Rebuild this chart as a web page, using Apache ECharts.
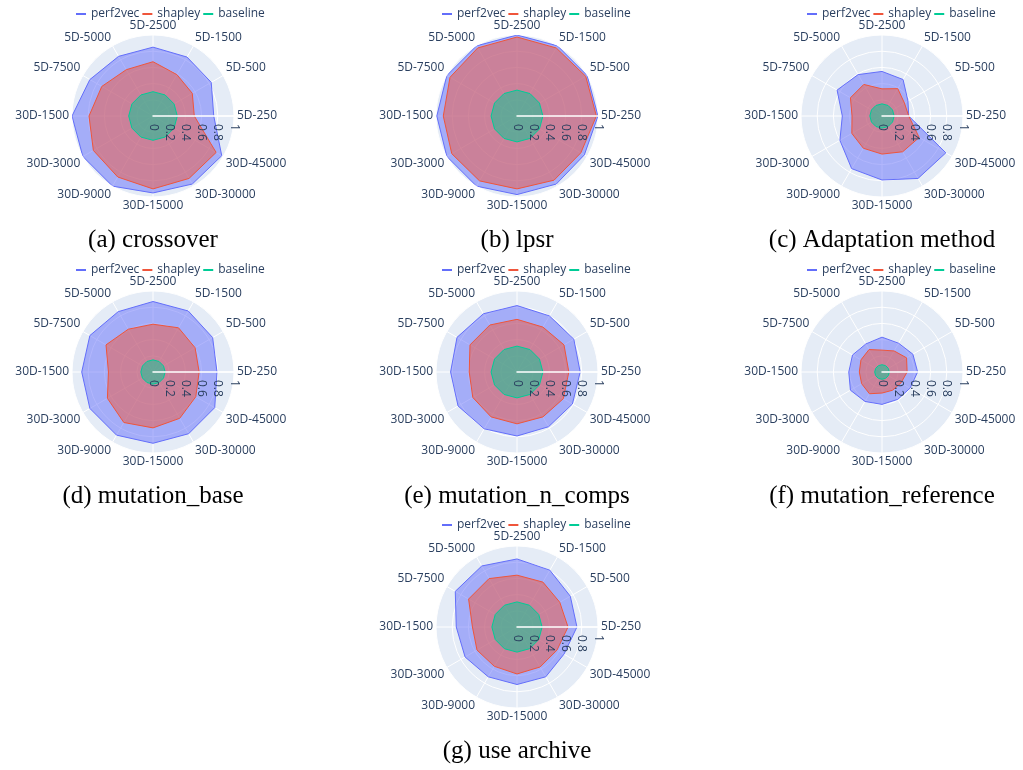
<!DOCTYPE html>
<html>
<head>
<meta charset="utf-8">
<script src="https://cdn.jsdelivr.net/npm/echarts@6/dist/echarts.min.js"></script>
<style>
html, body { margin: 0; background: #fff; }
#main { width: 1023px; height: 770px; }
</style>
</head>
<body>
<div id="main"></div>
<script>
// axes of every radar, counterclockwise from the right
var axisNames = ['5D-250', '5D-500', '5D-1500', '5D-2500', '5D-5000', '5D-7500',
	'30D-1500', '30D-3000', '30D-9000', '30D-15000', '30D-30000', '30D-45000'];
var radialTicks = [0, 0.2, 0.4, 0.6, 0.8, 1];
var seriesNames = ['perf2vec', 'shapley', 'baseline'];
var captions = ['(a) crossover', '(b) lpsr', '(c) Adaptation method', '(d) mutation_base',
	'(e) mutation_n_comps', '(f) mutation_reference', '(g) use archive'];

var crossoverPerf2vec = [0.75, 0.83, 0.84, 0.85, 0.85, 0.90, 1.0, 1.0, 1.0, 0.95, 0.97, 0.98];
var crossoverShapley = [0.51, 0.56, 0.59, 0.67, 0.66, 0.73, 0.79, 0.85, 0.87, 0.90, 0.89, 0.90];
var crossoverBaseline = [0.30, 0.30, 0.30, 0.30, 0.30, 0.30, 0.30, 0.30, 0.30, 0.30, 0.30, 0.30];

var lpsrPerf2vec = [1.0, 1.0, 1.0, 1.0, 1.0, 1.0, 0.99, 1.0, 1.0, 0.97, 0.97, 0.96];
var lpsrShapley = [0.98, 0.98, 0.97, 0.975, 0.97, 0.955, 0.91, 0.93, 0.925, 0.90, 0.915, 0.91];
var lpsrBaseline = [0.32, 0.32, 0.32, 0.32, 0.32, 0.32, 0.32, 0.32, 0.32, 0.32, 0.32, 0.32];

var adaptPerf2vec = [0.33, 0.37, 0.52, 0.55, 0.59, 0.64, 0.49, 0.60, 0.75, 0.79, 0.89, 0.91];
var adaptShapley = [0.33, 0.32, 0.39, 0.335, 0.45, 0.45, 0.37, 0.43, 0.46, 0.47, 0.51, 0.53];
var adaptBaseline = [0.15, 0.15, 0.15, 0.15, 0.15, 0.15, 0.15, 0.15, 0.15, 0.15, 0.15, 0.15];

var mutBasePerf2vec = [0.79, 0.85, 0.87, 0.87, 0.86, 0.90, 0.88, 0.90, 0.90, 0.88, 0.88, 0.88];
var mutBaseShapley = [0.57, 0.60, 0.63, 0.59, 0.61, 0.67, 0.55, 0.65, 0.72, 0.69, 0.66, 0.61];
var mutBaseBaseline = [0.15, 0.15, 0.15, 0.15, 0.15, 0.15, 0.15, 0.15, 0.15, 0.15, 0.15, 0.15];

var nCompsPerf2vec = [0.78, 0.81, 0.80, 0.82, 0.83, 0.855, 0.82, 0.84, 0.81, 0.79, 0.78, 0.79];
var nCompsShapley = [0.64, 0.67, 0.64, 0.65, 0.67, 0.67, 0.59, 0.63, 0.64, 0.64, 0.64, 0.66];
var nCompsBaseline = [0.32, 0.32, 0.32, 0.32, 0.32, 0.32, 0.32, 0.32, 0.32, 0.32, 0.32, 0.32];

var mutRefPerf2vec = [0.44, 0.44, 0.41, 0.43, 0.40, 0.42, 0.41, 0.45, 0.42, 0.40, 0.39, 0.40];
var mutRefShapley = [0.31, 0.35, 0.30, 0.27, 0.32, 0.30, 0.28, 0.29, 0.31, 0.26, 0.26, 0.27];
var mutRefBaseline = [0.09, 0.09, 0.09, 0.09, 0.09, 0.09, 0.09, 0.09, 0.09, 0.09, 0.09, 0.09];

var archivePerf2vec = [0.74, 0.76, 0.81, 0.84, 0.87, 0.88, 0.75, 0.74, 0.71, 0.71, 0.71, 0.67];
var archiveShapley = [0.63, 0.61, 0.64, 0.64, 0.69, 0.69, 0.55, 0.57, 0.56, 0.58, 0.57, 0.57];
var archiveBaseline = [0.31, 0.31, 0.31, 0.31, 0.31, 0.31, 0.31, 0.31, 0.31, 0.31, 0.31, 0.31];

var panels = [
	[crossoverPerf2vec, crossoverShapley, crossoverBaseline],
	[lpsrPerf2vec, lpsrShapley, lpsrBaseline],
	[adaptPerf2vec, adaptShapley, adaptBaseline],
	[mutBasePerf2vec, mutBaseShapley, mutBaseBaseline],
	[nCompsPerf2vec, nCompsShapley, nCompsBaseline],
	[mutRefPerf2vec, mutRefShapley, mutRefBaseline],
	[archivePerf2vec, archiveShapley, archiveBaseline]
];

// layout (pixels)
var centers = [[153, 116], [517, 116], [882, 116], [153, 372], [517, 372], [882, 372], [517, 627]];
var legendLeft = [76, 442, 807, 76, 442, 807, 442];
var radius = 81;
var colors = ['#636EFA', '#EF553B', '#00CC96'];
var font = 'Open Sans';
var inkColor = '#2a3f5f';

var step = 360 / axisNames.length;
var rMin = radialTicks[0], rMax = radialTicks[radialTicks.length - 1], rStep = radialTicks[1] - radialTicks[0];
var polar = [], angleAxis = [], radiusAxis = [], series = [], legend = [], title = [];

panels.forEach(function(panel, k) {
	var c = centers[k];
	var bg = 3 * k, main = 3 * k + 1, over = 3 * k + 2;
	polar.push({ center: c, radius: radius });
	polar.push({ center: c, radius: radius });
	polar.push({ center: c, radius: radius });

	// background disc
	angleAxis.push({
		polarIndex: bg, type: 'value', min: 0, max: 360, interval: step,
		startAngle: 0, clockwise: false, z: 0,
		axisLine: { show: false }, axisTick: { show: false }, axisLabel: { show: false },
		splitLine: { show: false },
		splitArea: { show: true, areaStyle: { color: ['#E5ECF6'] } }
	});
	radiusAxis.push({ polarIndex: bg, type: 'value', min: rMin, max: rMax, show: false });

	// grid + angular labels
	angleAxis.push({
		polarIndex: main, type: 'value', min: 0, max: 360, interval: step,
		startAngle: 0, clockwise: false, z: 1,
		axisLine: { show: false },
		axisTick: { show: false },
		axisLabel: {
			margin: 3,
			fontSize: 12,
			fontFamily: font,
			color: inkColor,
			formatter: function(v) { return axisNames[Math.round(v / step)] || ''; }
		},
		splitLine: { lineStyle: { color: '#ffffff', width: 1 } },
		splitArea: { show: false }
	});
	radiusAxis.push({
		polarIndex: main, type: 'value', min: rMin, max: rMax, interval: rStep, z: 1,
		axisLine: { show: false },
		axisTick: { show: false },
		axisLabel: { show: false },
		splitLine: { lineStyle: { color: '#ffffff', width: 1 } }
	});

	// radial axis line and tick labels drawn above the filled areas
	angleAxis.push({
		polarIndex: over, type: 'value', min: 0, max: 360,
		startAngle: 0, clockwise: false, show: false
	});
	radiusAxis.push({
		polarIndex: over, type: 'value', min: rMin, max: rMax, interval: rStep, z: 10,
		axisLine: { lineStyle: { color: '#ffffff', width: 1.5 } },
		axisTick: { show: false },
		splitLine: { show: false },
		axisLabel: {
			rotate: -90,
			margin: -8,
			align: 'left',
			verticalAlign: 'middle',
			fontSize: 12,
			fontFamily: font,
			color: inkColor,
			formatter: function(v) { return String(v); }
		}
	});

	panel.forEach(function(vals, s) {
		var pts = vals.map(function(r, i) { return [r, i * step]; });
		pts.push([vals[0], 360]);
		series.push({
			name: seriesNames[s],
			type: 'line',
			coordinateSystem: 'polar',
			polarIndex: main,
			data: pts,
			symbol: 'none',
			color: colors[s],
			lineStyle: { color: colors[s], width: 1 },
			areaStyle: { color: colors[s], opacity: 0.5 },
			silent: true,
			animation: false
		});
	});

	legend.push({
		data: seriesNames,
		left: legendLeft[k],
		top: c[1] - 108,
		padding: 0,
		itemGap: 3,
		itemWidth: 10,
		itemHeight: 2,
		icon: 'rect',
		selectedMode: false,
		textStyle: { fontSize: 12, fontFamily: font, color: inkColor }
	});

	title.push({
		text: captions[k],
		left: c[0],
		top: c[1] + 112,
		textAlign: 'center',
		padding: 0,
		textStyle: { fontFamily: 'Liberation Serif', fontSize: 25, fontWeight: 'normal', color: '#000' }
	});
});

var chart = echarts.init(document.getElementById('main'));
chart.setOption({
	backgroundColor: '#ffffff',
	animation: false,
	title: title,
	legend: legend,
	polar: polar,
	angleAxis: angleAxis,
	radiusAxis: radiusAxis,
	series: series
});
</script>
</body>
</html>
